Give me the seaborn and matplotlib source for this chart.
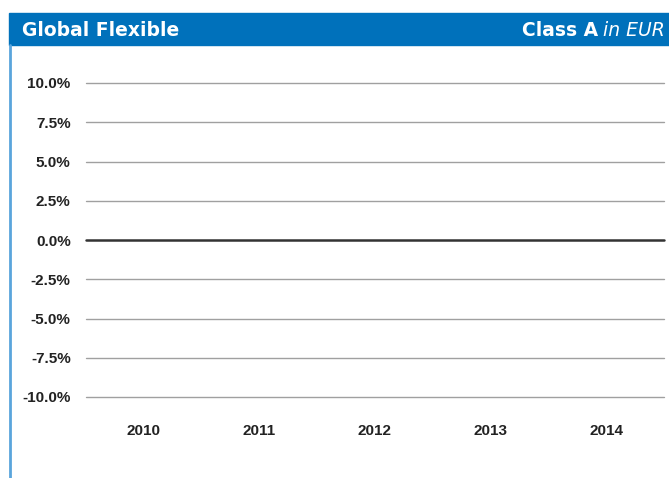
import pandas as pd
import matplotlib
matplotlib.use('Agg')
import matplotlib.pyplot as plt
import seaborn as sns
from matplotlib.patches import Rectangle
from matplotlib.lines import Line2D

# data: yearly returns (no bars shown in the reference)
years = ['2010', '2011', '2012', '2013', '2014']
returns = [0.0, 0.0, 0.0, 0.0, 0.0]
yticks = [-10.0, -7.5, -5.0, -2.5, 0.0, 2.5, 5.0, 7.5, 10.0]

df = pd.DataFrame({'year': years, 'ret': returns})

sns.set_style('white')
plt.rcParams['font.family'] = ['Liberation Sans', 'DejaVu Sans']

W, H = 669, 478
fig = plt.figure(figsize=(W / 100, H / 100), dpi=100)
ax = fig.add_axes([86 / W, 1 - 397 / H, (664 - 86) / W, (397 - 83) / H])

sns.barplot(x='year', y='ret', data=df, color='#0070ba', ax=ax)

ax.set_ylim(-10, 10)
ax.set_xlim(-0.5, 4.5)
ax.set_yticks(yticks)
ax.set_yticklabels([f'{v:.1f}%' for v in yticks], fontsize=11, fontweight='bold', color='#222222')
ax.set_xticks(range(len(years)))
ax.set_xticklabels(years, fontsize=11, fontweight='bold', color='#222222')
ax.tick_params(axis='y', length=0, pad=11)
ax.tick_params(axis='x', length=0, pad=19.5)
ax.set_xlabel('')
ax.set_ylabel('')
for s in ax.spines.values():
    s.set_visible(False)

# gridlines
for v in yticks:
    if v == 0:
        ax.axhline(v, color='#333333', lw=1.8, zorder=3, clip_on=False)
    else:
        ax.axhline(v, color='#a0a0a0', lw=1.0, zorder=0, clip_on=False)

# header band
fig.patches.append(Rectangle((9 / W, 1 - 45 / H), 1 - 9 / W, 32 / H,
                             transform=fig.transFigure, color='#0071bb', zorder=0))
fig.text(22 / W, 1 - 31 / H, 'Global Flexible', color='white', fontsize=13.5,
         fontweight='bold', family='DejaVu Sans', va='center', ha='left')
fig.text(598 / W, 1 - 31 / H, 'Class A', color='white', fontsize=13.5,
         fontweight='bold', family='DejaVu Sans', va='center', ha='right')
fig.text(603 / W, 1 - 31 / H, 'in EUR', color='white', fontsize=13.5,
         style='italic', family='DejaVu Sans', va='center', ha='left')

# left accent line
fig.lines.append(Line2D([10 / W, 10 / W], [0, 1 - 45 / H], transform=fig.transFigure,
                        color='#5aa5dc', lw=2))

fig.savefig('out.png', dpi=100)
